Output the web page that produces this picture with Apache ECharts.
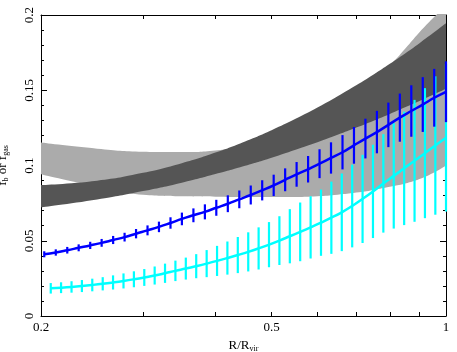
<!DOCTYPE html>
<html>
<head>
<meta charset="utf-8">
<script src="https://cdn.jsdelivr.net/npm/echarts@6/dist/echarts.min.js"></script>
<style>html,body{margin:0;padding:0;background:#fff}#chart{width:457px;height:352px}</style>
</head>
<body>
<div id="chart"></div>
<script>
// bands (R/Rvir, lower, upper)
const bandR = [0.2, 0.25, 0.3, 0.35, 0.4, 0.45, 0.5, 0.55, 0.6, 0.65, 0.7, 0.75, 0.8, 0.85, 0.9, 0.95, 1.0];
const lightLo = [0.0942, 0.0860, 0.0805, 0.0795, 0.0793, 0.0791, 0.0790, 0.0791, 0.0796, 0.0806, 0.0820, 0.0838, 0.0858, 0.0880, 0.0910, 0.0950, 0.1000];
const lightHi = [0.1152, 0.1112, 0.1092, 0.1089, 0.1100, 0.1140, 0.1200, 0.1265, 0.1335, 0.1410, 0.1490, 0.1575, 0.1665, 0.1775, 0.1885, 0.1980, 0.2060];
const darkLo = [0.0722, 0.0774, 0.0830, 0.0886, 0.0943, 0.0998, 0.1052, 0.1105, 0.1155, 0.1204, 0.1252, 0.1298, 0.1343, 0.1387, 0.1429, 0.1470, 0.1510];
const darkHi = [0.0870, 0.0899, 0.0951, 0.1015, 0.1086, 0.1160, 0.1235, 0.1310, 0.1385, 0.1460, 0.1533, 0.1605, 0.1676, 0.1745, 0.1813, 0.1880, 0.1945];

// blue profile
const blueR = [0.2026, 0.2121, 0.2220, 0.2323, 0.2432, 0.2545, 0.2664, 0.2788, 0.2918, 0.3054,
  0.3196, 0.3346, 0.3501, 0.3665, 0.3836, 0.4014, 0.4202, 0.4398, 0.4603, 0.4817,
  0.5042, 0.5277, 0.5523, 0.5781, 0.6050, 0.6332, 0.6628, 0.6937, 0.7260, 0.7599,
  0.7953, 0.8324, 0.8712, 0.9118, 0.9543, 1.0];
const blueF = [0.0410, 0.0422, 0.0437, 0.0453, 0.0469, 0.0486, 0.0505, 0.0524, 0.0547, 0.0569,
  0.0592, 0.0618, 0.0645, 0.0669, 0.0692, 0.0719, 0.0746, 0.0775, 0.0804, 0.0835,
  0.0868, 0.0905, 0.0941, 0.0975, 0.1012, 0.1050, 0.1088, 0.1134, 0.1179, 0.1222,
  0.1270, 0.1318, 0.1362, 0.1405, 0.1450, 0.1490];
const blueErr = [0.0020, 0.0021, 0.0022, 0.0023, 0.0024, 0.0026, 0.0027, 0.0029, 0.0031, 0.0033,
  0.0035, 0.0038, 0.0042, 0.0046, 0.0050, 0.0053, 0.0056, 0.0059, 0.0063, 0.0067,
  0.0071, 0.0076, 0.0082, 0.0088, 0.0096, 0.0104, 0.0114, 0.0122, 0.0132, 0.0141,
  0.0148, 0.0160, 0.0171, 0.0182, 0.0192, 0.0202];

// cyan profile
const cyanR = [0.2079, 0.2166, 0.2258, 0.2353, 0.2452, 0.2556, 0.2663, 0.2776, 0.2893, 0.3015,
  0.3142, 0.3274, 0.3412, 0.3556, 0.3706, 0.3863, 0.4026, 0.4195, 0.4372, 0.4557,
  0.4749, 0.4949, 0.5158, 0.5376, 0.5602, 0.5839, 0.6085, 0.6341, 0.6609, 0.6888,
  0.7178, 0.7481, 0.7796, 0.8125, 0.8468, 0.8825, 0.9197, 0.9585, 1.0];
const cyanF = [0.0184, 0.0188, 0.0193, 0.0199, 0.0206, 0.0214, 0.0223, 0.0233, 0.0244, 0.0256,
  0.0269, 0.0284, 0.0300, 0.0315, 0.0331, 0.0348, 0.0366, 0.0385, 0.0405, 0.0426,
  0.0449, 0.0474, 0.0501, 0.0530, 0.0559, 0.0589, 0.0620, 0.0653, 0.0689, 0.0731,
  0.0778, 0.0828, 0.0881, 0.0931, 0.0981, 0.1031, 0.1082, 0.1133, 0.1184];
const cyanErr = [0.0035, 0.0036, 0.0038, 0.0040, 0.0042, 0.0044, 0.0047, 0.0050, 0.0053, 0.0056,
  0.0060, 0.0064, 0.0068, 0.0073, 0.0080, 0.0090, 0.0100, 0.0110, 0.0120, 0.0130,
  0.0140, 0.0150, 0.0162, 0.0180, 0.0195, 0.0207, 0.0220, 0.0240, 0.0258, 0.0275,
  0.0293, 0.0310, 0.0327, 0.0350, 0.0377, 0.0405, 0.0432, 0.0460, 0.0490];

const xTicks = [0.2, 0.3, 0.4, 0.5, 0.6, 0.7, 0.8, 0.9, 1];
const xLabels = [0.2, 0.5, 1];

const font = 'Liberation Serif';
const lg = Math.log10;

// band = stacked pair of lines; value listed first so the stack goes on y
function bandSeries(name, lo, hi, color) {
  const common = { type: 'line', stack: name, showSymbol: false, smooth: true, silent: true, z: 1,
    dimensions: ['f', 'r'], encode: { x: 'r', y: 'f' }, lineStyle: { opacity: 0 } };
  return [
    Object.assign({}, common, { data: bandR.map((r, i) => [lo[i], lg(r)]) }),
    Object.assign({}, common, { data: bandR.map((r, i) => [hi[i] - lo[i], lg(r)]),
      areaStyle: { color: color, opacity: 1 } })
  ];
}

function errSeries(r, f, e, color) {
  return {
    type: 'custom', z: 3,
    data: r.map((v, i) => [lg(v), f[i] - e[i], f[i] + e[i]]),
    renderItem: function (params, api) {
      var a = api.coord([api.value(0), api.value(1)]);
      var b = api.coord([api.value(0), api.value(2)]);
      return { type: 'line', shape: { x1: a[0], y1: a[1], x2: b[0], y2: b[1] },
        style: { stroke: color, lineWidth: 2.2 } };
    }
  };
}

function lineSeries(r, f, color) {
  return { type: 'line', z: 4, data: r.map((v, i) => [lg(v), f[i]]), showSymbol: false, smooth: true,
    lineStyle: { color: color, width: 2.5 } };
}

const axisCommon = {
  axisLine: { show: true, onZero: false, lineStyle: { color: '#000', width: 1 } },
  splitLine: { show: false }
};
const subRich = { sub: { fontFamily: font, fontSize: 8, verticalAlign: 'bottom', padding: [7, 0, 0, 0] } };

var myChart = echarts.init(document.getElementById('chart'));
var option = {
  animation: false,
  grid: { left: 41, right: 11, top: 15, bottom: 36, containLabel: false, outerBoundsMode: 'none' },
  xAxis: [{
    type: 'value', min: lg(0.2), max: 0, position: 'bottom', ...axisCommon,
    name: 'R/R{sub|vir}', nameLocation: 'middle', nameGap: 18,
    nameTextStyle: { fontFamily: font, fontSize: 13, color: '#000', rich: subRich },
    axisTick: { inside: true, length: 4, customValues: xTicks.map(lg), lineStyle: { color: '#000' } },
    axisLabel: { customValues: xLabels.map(lg), fontFamily: font, fontSize: 13, color: '#000', margin: 5,
      formatter: v => String(+Math.pow(10, v).toFixed(2)) }
  }, {
    type: 'value', min: lg(0.2), max: 0, position: 'top', ...axisCommon,
    axisTick: { inside: true, length: 4, customValues: xTicks.map(lg), lineStyle: { color: '#000' } },
    axisLabel: { show: false }
  }],
  yAxis: [{
    type: 'value', min: 0, max: 0.2, interval: 0.05, position: 'left', ...axisCommon,
    name: 'f{sub|b} or f{sub|gas}', nameLocation: 'middle', nameGap: 31, nameRotate: 90,
    nameTextStyle: { fontFamily: font, fontSize: 13, color: '#000', rich: subRich },
    axisTick: { inside: true, length: 6, lineStyle: { color: '#000' } },
    minorTick: { show: true, splitNumber: 5, length: 3, lineStyle: { color: '#000' } },
    axisLabel: { rotate: 90, fontFamily: font, fontSize: 13, color: '#000', margin: 5 }
  }, {
    type: 'value', min: 0, max: 0.2, interval: 0.05, position: 'right', ...axisCommon,
    axisTick: { inside: true, length: 6, lineStyle: { color: '#000' } },
    minorTick: { show: true, splitNumber: 5, length: 3, lineStyle: { color: '#000' } },
    axisLabel: { show: false }
  }],
  series: [
    ...bandSeries('light', lightLo, lightHi, '#ababab'),
    ...bandSeries('dark', darkLo, darkHi, '#555555'),
    errSeries(cyanR, cyanF, cyanErr, '#00ffff'),
    lineSeries(cyanR, cyanF, '#00ffff'),
    errSeries(blueR, blueF, blueErr, '#0000ff'),
    lineSeries(blueR, blueF, '#0000ff')
  ]
};
myChart.setOption(option);
</script>
</body>
</html>
